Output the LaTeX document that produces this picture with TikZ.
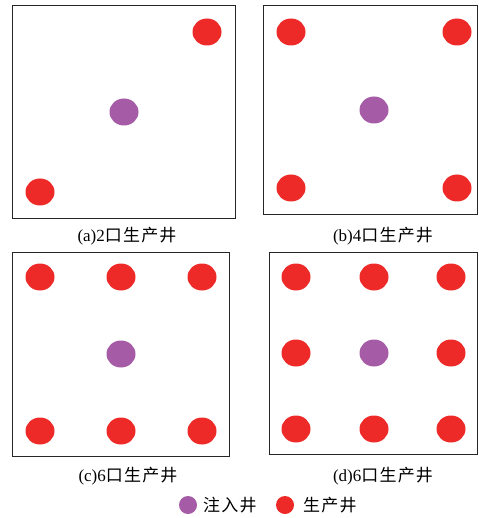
\documentclass[tikz,border=0pt]{standalone}
\usepackage{fontspec}
\setmainfont{Liberation Serif}
\newfontfamily\cjk{Noto Sans CJK SC}[LetterSpace=7]
\usetikzlibrary{shapes.geometric}
\definecolor{wred}{RGB}{238,42,41}
\definecolor{wpurple}{RGB}{165,91,165}
\tikzset{
  frame/.style={draw=black!85, line width=1pt},
  prod/.style={ellipse, fill=wred, draw=none, minimum width=29pt, minimum height=27pt, inner sep=0pt},
  inj/.style={ellipse, fill=wpurple, draw=none, minimum width=29pt, minimum height=27pt, inner sep=0pt},
  legdot/.style={minimum width=18pt, minimum height=18pt},
  captext/.style={font=\fontsize{17}{20}\selectfont, inner sep=0pt, anchor=center},
  legtext/.style={font=\fontsize{17}{20}\selectfont, inner sep=0pt, anchor=west}
}
\begin{document}
\begin{tikzpicture}[x=1pt,y=-1pt]
\useasboundingbox (0,0) rectangle (478,518);
% (a)
\node[frame, minimum width=223pt, minimum height=213pt, inner sep=0pt, anchor=north west] (fa) at (12,5) {};
\node[prod] (a1) at (207,32) {};
\node[inj] (a0) at (124,112) {};
\node[prod] (a2) at (40,192) {};
\node[captext] (la) at (127,236) {(a)2{\cjk 口生产井}};
% (b)
\node[frame, minimum width=214pt, minimum height=209pt, inner sep=0pt, anchor=north west] (fb) at (263,5.5) {};
\node[prod] (b1) at (291,32) {};
\node[prod] (b2) at (457,32) {};
\node[inj] (b0) at (374,110) {};
\node[prod] (b3) at (291,188) {};
\node[prod] (b4) at (457,188) {};
\node[captext] (lb) at (383,236) {(b)4{\cjk 口生产井}};
% (c)
\node[frame, minimum width=217pt, minimum height=204pt, inner sep=0pt, anchor=north west] (fc) at (12,252) {};
\node[prod] (c1) at (40,277) {};
\node[prod] (c2) at (121,277) {};
\node[prod] (c3) at (202,277) {};
\node[inj] (c0) at (121,354) {};
\node[prod] (c4) at (40,431) {};
\node[prod] (c5) at (121,431) {};
\node[prod] (c6) at (202,431) {};
\node[captext] (lc) at (128,476) {(c)6{\cjk 口生产井}};
% (d)
\node[frame, minimum width=208pt, minimum height=202pt, inner sep=0pt, anchor=north west] (fd) at (269,252) {};
\node[prod] (d1) at (296,277) {};
\node[prod] (d2) at (374,277) {};
\node[prod] (d3) at (451,277) {};
\node[prod] (d4) at (296,353) {};
\node[inj] (d0) at (374,353) {};
\node[prod] (d5) at (451,353) {};
\node[prod] (d6) at (296,429) {};
\node[prod] (d7) at (374,429) {};
\node[prod] (d8) at (451,429) {};
\node[captext] (ld) at (383,476) {(d)6{\cjk 口生产井}};
% legend
\node[inj, legdot] (k1) at (188,505) {};
\node[legtext] (t1) at (203,505.5) {\cjk 注入井};
\node[prod, legdot] (k2) at (285,505) {};
\node[legtext] (t2) at (303,505.5) {\cjk 生产井};
\end{tikzpicture}
\end{document}
